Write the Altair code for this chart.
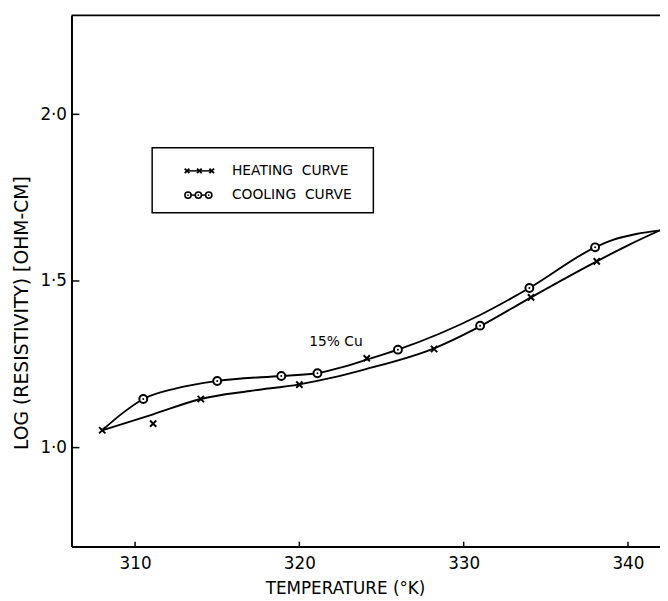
import altair as alt
import pandas as pd

# ---- data ----
heat_t = [308.0, 311.1, 314.0, 320.0, 324.1, 328.2, 334.1, 338.1]
heat_r = [1.052, 1.072, 1.146, 1.189, 1.268, 1.296, 1.451, 1.559]

cool_t = [310.5, 315.0, 318.9, 321.1, 326.0, 331.0, 334.0, 338.0]
cool_r = [1.146, 1.200, 1.215, 1.223, 1.294, 1.366, 1.479, 1.601]

heat_curve_t = [308.0, 311.1, 314.0, 317.0, 320.0, 322.0, 324.0, 328.2, 331.0, 334.1, 338.1, 340.0, 341.95]
heat_curve_r = [1.052, 1.100, 1.146, 1.170, 1.190, 1.210, 1.235, 1.298, 1.364, 1.451, 1.559, 1.607, 1.652]

cool_curve_t = [308.0, 309.2, 310.5, 312.5, 315.0, 318.9, 321.1, 322.5, 324.1, 326.0, 331.0, 334.0, 338.0, 339.0, 340.5, 341.95]
cool_curve_r = [1.052, 1.102, 1.146, 1.178, 1.200, 1.215, 1.223, 1.240, 1.264, 1.294, 1.398, 1.479, 1.601, 1.622, 1.641, 1.652]

x_ticks = [310, 320, 330, 340]
y_ticks = [1.0, 1.5, 2.0]

legend_labels = ["HEATING\u00a0\u00a0CURVE", "COOLING\u00a0\u00a0CURVE"]
note_text = "15% Cu"
note_t, note_r = [320.6], [1.317]

# ---- layout ----
W, H = 596, 538
FONT = "DejaVu Sans"
xdom = [306.13, 341.95]
ydom = [0.703, 2.297]

xaxis = alt.Axis(values=x_ticks, ticks=False, grid=False, domainColor="black", domainWidth=2,
                 labelFontSize=17, labelPadding=9, labelColor="black", labelFont=FONT,
                 title="TEMPERATURE (°K)", titleFont=FONT, titleFontSize=17, titleFontWeight="normal",
                 titleColor="black", titleX=277, titleY=43, titleBaseline="middle", titleAlign="center")
yaxis = alt.Axis(values=y_ticks, ticks=False, grid=False, domainColor="black", domainWidth=2,
                 labelFontSize=17, labelPadding=5, labelColor="black", labelFont=FONT,
                 labelExpr="replace(format(datum.value, '.1f'), '.', '·')",
                 title="LOG (RESISTIVITY) [OHM-CM]", titleFont=FONT, titleFontSize=19,
                 titleFontWeight="normal", titleColor="black", titleX=-51, titleY=301,
                 titleBaseline="middle", titleAlign="center", titleAngle=270)

X = alt.X("temp:Q", scale=alt.Scale(domain=xdom, nice=False, zero=False), axis=xaxis)
Y = alt.Y("logr:Q", scale=alt.Scale(domain=ydom, nice=False, zero=False), axis=yaxis)

curves = pd.concat([
    pd.DataFrame({"temp": heat_curve_t, "logr": heat_curve_r, "series": "heating"}),
    pd.DataFrame({"temp": cool_curve_t, "logr": cool_curve_r, "series": "cooling"}),
])
heat_df = pd.DataFrame({"temp": heat_t, "logr": heat_r})
cool_df = pd.DataFrame({"temp": cool_t, "logr": cool_r})
one = pd.DataFrame({"a": [0]})

line_layer = alt.Chart(curves).mark_line(interpolate="monotone", color="black", strokeWidth=1.9,
                                         clip=True).encode(x=X, y=Y, detail="series:N", order="temp:Q")

XSHAPE = "M-1,-1L1,1M-1,1L1,-1"
heat_layer = alt.Chart(heat_df).mark_point(shape=XSHAPE, size=40, strokeWidth=2, color="black",
                                           opacity=1).encode(x=X, y=Y)
cool_layer = alt.Chart(cool_df).mark_point(shape="circle", size=64, strokeWidth=2, stroke="black",
                                           fill="white", fillOpacity=1, opacity=1).encode(x=X, y=Y)
cool_dot = alt.Chart(cool_df).mark_point(shape="circle", size=4, filled=True, color="black",
                                         opacity=1).encode(x=X, y=Y)

top_rule = alt.Chart(one).mark_rule(color="black", strokeWidth=2).encode(
    x=alt.value(0), x2=alt.value(W), y=alt.value(0))
xtick_layer = alt.Chart(pd.DataFrame({"temp": x_ticks})).mark_rule(color="black", strokeWidth=1.5).encode(
    x=X, y=alt.value(H), y2=alt.value(H - 5))
ytick_layer = alt.Chart(pd.DataFrame({"logr": y_ticks})).mark_rule(color="black", strokeWidth=1.5).encode(
    y=Y, x=alt.value(0), x2=alt.value(8))

note = alt.Chart(pd.DataFrame({"temp": note_t, "logr": note_r, "t": [note_text]})).mark_text(
    align="left", baseline="middle", font=FONT, fontSize=14, color="black").encode(x=X, y=Y, text="t:N")

# ---- legend (drawn by hand) ----
leg_box = alt.Chart(one).mark_rect(fill="white", stroke="black", strokeWidth=1.5).encode(
    x=alt.value(81.7), x2=alt.value(305.7), y=alt.value(134), y2=alt.value(200))
leg_text = alt.Chart(pd.DataFrame({"label": legend_labels, "py": [157.5, 182.0]})).mark_text(
    align="left", baseline="middle", font=FONT, fontSize=14, color="black").encode(
    x=alt.value(162.5), y=alt.Y("py:Q", scale=None), text="label:N")
leg_heat_line = alt.Chart(one).mark_rule(color="black", strokeWidth=1.5).encode(
    x=alt.value(117), x2=alt.value(142), y=alt.value(157.5))
leg_heat_pts = alt.Chart(pd.DataFrame({"px": [117, 129.5, 142], "py": [157.5] * 3})).mark_point(
    shape=XSHAPE, size=22, strokeWidth=1.8, color="black", opacity=1).encode(
    x=alt.X("px:Q", scale=None), y=alt.Y("py:Q", scale=None))
leg_cool_line = alt.Chart(one).mark_rule(color="black", strokeWidth=1.5).encode(
    x=alt.value(118), x2=alt.value(139), y=alt.value(182))
leg_cool_pts = alt.Chart(pd.DataFrame({"px": [118, 128.5, 139], "py": [182.0] * 3})).mark_point(
    shape="circle", size=40, strokeWidth=1.6, stroke="black", fill="white", fillOpacity=1,
    opacity=1).encode(x=alt.X("px:Q", scale=None), y=alt.Y("py:Q", scale=None))
leg_cool_dots = alt.Chart(pd.DataFrame({"px": [118, 128.5, 139], "py": [182.0] * 3})).mark_point(
    shape="circle", size=3, filled=True, color="black", opacity=1).encode(
    x=alt.X("px:Q", scale=None), y=alt.Y("py:Q", scale=None))

chart = alt.layer(
    line_layer, heat_layer, cool_layer, cool_dot, top_rule, xtick_layer, ytick_layer, note,
    leg_box, leg_heat_line, leg_heat_pts, leg_cool_line, leg_cool_pts, leg_cool_dots, leg_text,
).properties(
    width=W, height=H, autosize="none",
    padding={"left": 64.3, "top": 3.7, "right": 0, "bottom": 50},
    background="white",
).configure_view(strokeWidth=0)

chart.save("out.html", embed_options={"renderer": "svg", "actions": False})
